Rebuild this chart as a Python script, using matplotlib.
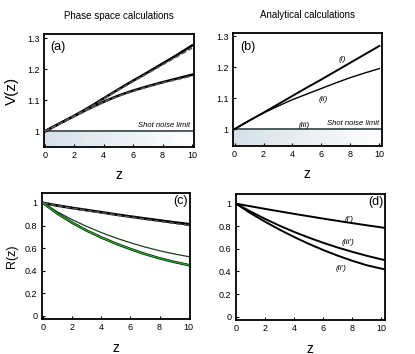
import numpy as np
import matplotlib
matplotlib.use("Agg")
import matplotlib.pyplot as plt
from matplotlib.colors import LinearSegmentedColormap

plt.rcParams["font.family"] = ["Liberation Sans", "DejaVu Sans"]

# ---------------- data ----------------
z = [0, 1, 2, 3, 4, 5, 6, 7, 8, 9, 10]
z_d = [0, 1, 2, 3, 4, 5, 6, 7, 8, 9, 10.25]

# (a) phase space V(z): two curves, each solid + dashed run
va_up = [1.0, 1.025, 1.050, 1.077, 1.106, 1.135, 1.163, 1.190, 1.218, 1.246, 1.276]
va_up_d = [1.0, 1.024, 1.049, 1.075, 1.104, 1.133, 1.160, 1.187, 1.214, 1.241, 1.268]
va_lo = [1.0, 1.025, 1.049, 1.073, 1.095, 1.115, 1.131, 1.145, 1.158, 1.170, 1.182]
va_lo_d = [1.0, 1.024, 1.048, 1.072, 1.094, 1.113, 1.129, 1.143, 1.156, 1.167, 1.178]

# (b) analytical V(z)
vb_i = [1.0, 1.027, 1.053, 1.080, 1.107, 1.134, 1.160, 1.187, 1.214, 1.241, 1.268]
vb_ii = [1.0, 1.027, 1.052, 1.074, 1.095, 1.113, 1.131, 1.149, 1.166, 1.181, 1.195]

# (c) phase space R(z)
rc_up = [1.0, 0.977, 0.956, 0.937, 0.918, 0.898, 0.880, 0.862, 0.845, 0.828, 0.812]
rc_up_d = [1.0, 0.976, 0.954, 0.934, 0.914, 0.894, 0.875, 0.856, 0.838, 0.820, 0.801]
rc_thin = [1.0, 0.920, 0.852, 0.792, 0.738, 0.690, 0.648, 0.610, 0.577, 0.549, 0.525]
rc_green = [1.0, 0.905, 0.825, 0.755, 0.695, 0.640, 0.592, 0.548, 0.510, 0.478, 0.450]

# (d) analytical R(z)
rd_i = [1.0, 0.977, 0.954, 0.932, 0.910, 0.889, 0.868, 0.848, 0.828, 0.809, 0.786]
rd_iii = [1.0, 0.930, 0.865, 0.805, 0.750, 0.700, 0.654, 0.612, 0.574, 0.539, 0.500]
rd_ii = [1.0, 0.915, 0.840, 0.770, 0.705, 0.645, 0.590, 0.540, 0.495, 0.455, 0.418]

fig = plt.figure(figsize=(4.15, 3.54), dpi=100)
ax_a = fig.add_axes([0.106, 0.585, 0.361, 0.319])
ax_b = fig.add_axes([0.561, 0.588, 0.359, 0.319])
ax_c = fig.add_axes([0.100, 0.098, 0.359, 0.356])
ax_d = fig.add_axes([0.568, 0.096, 0.360, 0.356])

shade = LinearSegmentedColormap.from_list("shade", ["#d6e0e9", "#ffffff"])
grad = np.linspace(0, 1, 256).reshape(1, -1)

for ax in (ax_a, ax_b, ax_c, ax_d):
    for s in ax.spines.values():
        s.set_linewidth(1.3)
    ax.tick_params(direction="in", length=2.5, width=0.8, labelsize=6.5, pad=3)
    ax.set_xticks([0, 2, 4, 6, 8, 10])
    ax.set_xlabel("z", fontsize=10, labelpad=6)

# ---- (a)
ax = ax_a
ax.set_xlim(-0.05, 10.12)
ax.set_ylim(0.95, 1.313)
ax.imshow(grad, extent=[-0.05, 10.12, 0.95, 1.0], aspect="auto", cmap=shade, zorder=0)
ax.axhline(1.0, color="#4d5d5d", lw=1.4, zorder=1)
ax.plot(z, va_up, color="black", lw=1.8, zorder=3)
ax.plot(z, va_up_d, color="#555555", lw=1.2, ls=(0, (3, 1.5)), zorder=4)
ax.plot(z, va_lo, color="black", lw=1.8, zorder=3)
ax.plot(z, va_lo_d, color="#555555", lw=1.2, ls=(0, (3, 1.5)), zorder=4)
ax.set_yticks([1.0, 1.1, 1.2, 1.3])
ax.set_yticklabels(["1", "1.1", "1.2", "1.3"])
ax.set_ylabel("V(z)", fontsize=11, labelpad=6)
ax.text(0.35, 1.29, "(a)", fontsize=9, va="top")
ax.text(9.9, 1.008, "Shot noise limit", fontsize=5.5, style="italic", ha="right", va="bottom")
ax.set_title("Phase space calculations", fontsize=7, pad=11)

# ---- (b)
ax = ax_b
ax.set_xlim(-0.12, 10.17)
ax.set_ylim(0.946, 1.31)
ax.imshow(grad, extent=[-0.12, 10.17, 0.946, 1.0], aspect="auto", cmap=shade, zorder=0)
ax.plot([-0.12, 10.17], [1.0, 1.0], color="#4d5d5d", lw=1.4, zorder=1)
ax.plot(z, vb_i, color="black", lw=1.4, zorder=3)
ax.plot(z, vb_ii, color="black", lw=1.0, zorder=3)
ax.set_yticks([1.0, 1.1, 1.2, 1.3])
ax.set_yticklabels(["1", "1.1", "1.2", "1.3"])
ax.text(0.4, 1.285, "(b)", fontsize=9, va="top")
ax.text(7.45, 1.218, "(i)", fontsize=6, style="italic", ha="center")
ax.text(6.1, 1.092, "(ii)", fontsize=6, style="italic", ha="center")
ax.text(4.8, 1.006, "(iii)", fontsize=6, style="italic", ha="center")
ax.text(10.0, 1.006, "Shot noise limit", fontsize=5.5, style="italic", ha="right", va="bottom")
ax.set_title("Analytical calculations", fontsize=7, pad=11)

# ---- (c)
ax = ax_c
ax.set_xlim(-0.11, 10.12)
ax.set_ylim(-0.03, 1.086)
ax.plot(z, rc_up, color="black", lw=2.0, zorder=3)
ax.plot(z, rc_up_d, color="#555555", lw=1.2, ls=(0, (3, 1.5)), zorder=4)
ax.plot(z, rc_thin, color="#1f3f1f", lw=0.9, zorder=3)
ax.plot(z, rc_green, color="black", lw=1.8, zorder=3)
ax.plot(z, rc_green, color="#22bb22", lw=0.9, zorder=4)
ax.set_yticks([0, 0.2, 0.4, 0.6, 0.8, 1.0])
ax.set_yticklabels(["0", "0.2", "0.4", "0.6", "0.8", "1"])
ax.set_ylabel("R(z)", fontsize=9, labelpad=5)
ax.text(9.95, 1.07, "(c)", fontsize=9, ha="right", va="top")

# ---- (d)
ax = ax_d
ax.set_xlim(-0.03, 10.27)
ax.set_ylim(-0.03, 1.086)
ax.plot(z_d, rd_i, color="black", lw=1.4, zorder=3)
ax.plot(z_d, rd_iii, color="black", lw=1.4, zorder=3)
ax.plot(z_d, rd_ii, color="black", lw=1.4, zorder=3)
ax.set_yticks([0, 0.2, 0.4, 0.6, 0.8, 1.0])
ax.set_yticklabels(["0", "0.2", "0.4", "0.6", "0.8", "1"])
ax.text(10.15, 1.07, "(d)", fontsize=9, ha="right", va="top")
ax.text(7.8, 0.85, "(i')", fontsize=6, style="italic", ha="center")
ax.text(7.7, 0.645, "(iii')", fontsize=6, style="italic", ha="center")
ax.text(7.2, 0.41, "(ii')", fontsize=6, style="italic", ha="center")

fig.savefig("out.png", dpi=100)
